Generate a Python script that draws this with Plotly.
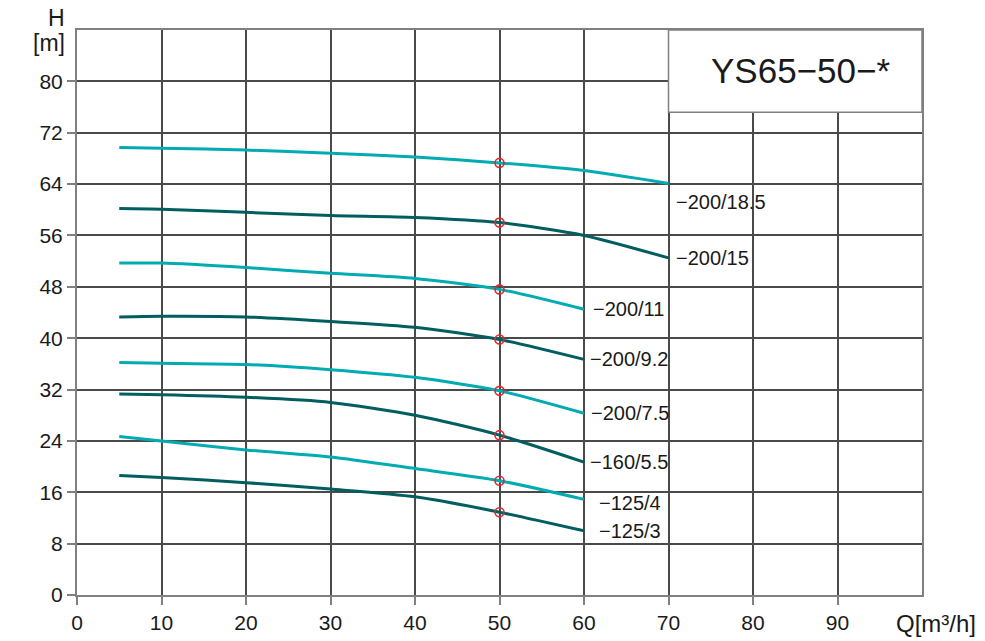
import plotly.graph_objects as go

# ---- data ----
q = [5, 10, 20, 30, 40, 50, 60, 70]
h_200_18_5 = [69.7, 69.6, 69.3, 68.8, 68.2, 67.3, 66.1, 64.1]
h_200_15 = [60.2, 60.1, 59.6, 59.1, 58.8, 58.0, 56.0, 52.5]
q_short = [5, 10, 20, 30, 40, 50, 60]
h_200_11 = [51.7, 51.7, 51.0, 50.1, 49.3, 47.6, 44.5]
h_200_9_2 = [43.3, 43.4, 43.3, 42.6, 41.7, 39.8, 36.7]
h_200_7_5 = [36.2, 36.1, 35.9, 35.1, 33.9, 31.8, 28.3]
h_160_5_5 = [31.3, 31.2, 30.8, 30.0, 28.0, 24.9, 20.7]
h_125_4 = [24.7, 24.0, 22.6, 21.5, 19.7, 17.8, 14.9]
h_125_3 = [18.6, 18.3, 17.5, 16.5, 15.3, 12.9, 10.0]

labels = ["\u2212200/18.5", "\u2212200/15", "\u2212200/11", "\u2212200/9.2",
          "\u2212200/7.5", "\u2212160/5.5", "\u2212125/4", "\u2212125/3"]
series = [(q, h_200_18_5), (q, h_200_15), (q_short, h_200_11), (q_short, h_200_9_2),
          (q_short, h_200_7_5), (q_short, h_160_5_5), (q_short, h_125_4), (q_short, h_125_3)]
duty_q = 50

x_ticks = [0, 10, 20, 30, 40, 50, 60, 70, 80, 90]
y_ticks = [0, 8, 16, 24, 32, 40, 48, 56, 64, 72, 80]
title_text = "YS65\u221250\u2212*"

# ---- style ----
CYAN = "#00abb2"
DARK = "#005e60"
colors = [CYAN, DARK, CYAN, DARK, CYAN, DARK, CYAN, DARK]
label_shift = [(5, -19), (5, 0), (7, 0), (4, 0), (5, 0), (4, 0), (13, -4), (13, 0)]
FONT = "Liberation Sans, Arial, sans-serif"
TXT = "#1a1a1a"
GRID = "#4a4a4a"
FRAME = "#808080"

fig = go.Figure()
annotations = []
for (xs, ys), c, lab, (dx, dy) in zip(series, colors, labels, label_shift):
    fig.add_trace(go.Scatter(x=xs, y=ys, mode="lines",
                             line=dict(color=c, width=3, shape="spline", smoothing=0.7),
                             showlegend=False, hoverinfo="skip"))
    i = xs.index(duty_q)
    fig.add_trace(go.Scatter(x=[xs[i]], y=[ys[i]], mode="markers",
                             marker=dict(symbol="circle-open", size=9, color="#e8262a",
                                         line=dict(width=1.6, color="#e8262a")),
                             showlegend=False, hoverinfo="skip"))
    annotations.append(dict(x=xs[-1], y=ys[-1], text=lab, showarrow=False,
                            xanchor="left", yanchor="middle", xshift=dx, yshift=dy,
                            font=dict(family=FONT, size=20, color=TXT)))

annotations += [
    dict(x=85, y=81.7, text=title_text, showarrow=False, xanchor="center", yanchor="middle",
         xshift=5, font=dict(family=FONT, size=35, color=TXT)),
    dict(x=0, y=88, xref="x", yref="y", text="H", showarrow=False, xanchor="center",
         yanchor="middle", xshift=-21, yshift=12, font=dict(family=FONT, size=23, color=TXT)),
    dict(x=0, y=88, xref="x", yref="y", text="[m]", showarrow=False, xanchor="center",
         yanchor="middle", xshift=-28, yshift=-13, font=dict(family=FONT, size=23, color=TXT)),
    dict(x=100, y=0, xref="x", yref="y", text="Q[m\u00b3/h]", showarrow=False, xanchor="center",
         yanchor="middle", xshift=14, yshift=-28, font=dict(family=FONT, size=24, color=TXT)),
]

fig.add_shape(type="rect", x0=70, x1=100, y0=75.2, y1=88, xref="x", yref="y",
              fillcolor="white", line=dict(color=FRAME, width=1.5), layer="above")

fig.update_layout(
    width=985, height=641,
    margin=dict(l=77, r=63, t=30, b=46, autoexpand=False),
    paper_bgcolor="white", plot_bgcolor="white",
    annotations=annotations,
    font=dict(family=FONT, color=TXT),
    xaxis=dict(range=[0, 100], tickvals=x_ticks, ticks="outside", ticklen=8, tickwidth=1.5,
               tickcolor=FRAME, showgrid=True, gridcolor=GRID, gridwidth=1.5, automargin=False,
               showline=True, linecolor=FRAME, linewidth=2, mirror=True, zeroline=False,
               tickfont=dict(family=FONT, size=21, color=TXT), fixedrange=True),
    yaxis=dict(range=[0, 88], tickvals=y_ticks, ticks="outside", ticklen=8, tickwidth=1.5,
               tickcolor=FRAME, showgrid=True, gridcolor=GRID, gridwidth=1.5, automargin=False,
               showline=True, linecolor=FRAME, linewidth=2, mirror=True, zeroline=False,
               tickfont=dict(family=FONT, size=21, color=TXT), fixedrange=True),
)

fig.write_html("out.html", config={"displayModeBar": False},
               post_script="document.body.style.margin='0';")
